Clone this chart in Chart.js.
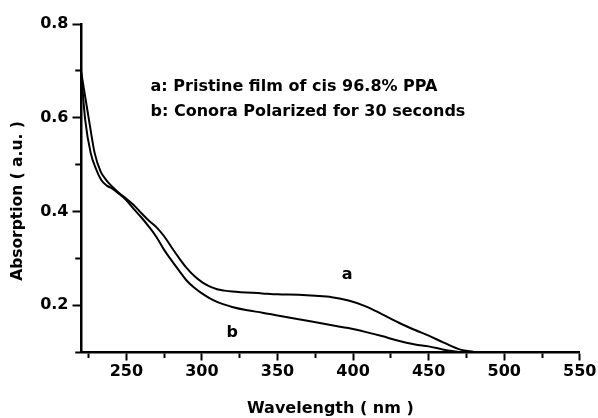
<!DOCTYPE html>
<html>
<head>
<meta charset="utf-8">
<script src="https://cdn.jsdelivr.net/npm/chart.js@4"></script>
<style>
  html, body { margin: 0; padding: 0; background: #fff; }
  #wrap { width: 598px; height: 418px; }
</style>
</head>
<body>
<div id="wrap"><canvas id="uvchart" width="598" height="418"></canvas></div>
<script>
// curve a: pristine film
const wavelengthA = [220, 222.5, 225.3, 229, 233, 236.7, 240, 245, 250, 255, 260, 265, 270, 275, 280, 285, 290, 295, 300, 305, 310, 315, 320, 340, 350, 364, 375, 386, 397, 408, 419, 430, 441, 450, 460, 471, 480];
const absorbA = [0.70, 0.65, 0.595, 0.525, 0.485, 0.467, 0.455, 0.44, 0.427, 0.413, 0.396, 0.38, 0.366, 0.347, 0.323, 0.30, 0.279, 0.262, 0.249, 0.24, 0.234, 0.231, 0.229, 0.225, 0.223, 0.222, 0.22, 0.217, 0.21, 0.198, 0.181, 0.163, 0.147, 0.135, 0.12, 0.105, 0.1];

// curve b: corona polarized 30 s
const wavelengthB = [220, 222.8, 226.4, 230, 233.4, 237, 240, 245, 250, 255, 260, 265, 270, 275, 280, 285, 290, 295, 300, 305, 310, 315, 320, 330, 340, 350, 364, 386, 397, 408, 419, 430, 441, 450, 460, 470];
const absorbB = [0.70, 0.595, 0.525, 0.49, 0.467, 0.455, 0.45, 0.438, 0.424, 0.405, 0.387, 0.367, 0.345, 0.318, 0.295, 0.273, 0.252, 0.237, 0.225, 0.215, 0.207, 0.201, 0.196, 0.189, 0.184, 0.178, 0.17, 0.157, 0.151, 0.143, 0.134, 0.124, 0.116, 0.112, 0.105, 0.1];

const xMajorLabels = [250, 300, 350, 400, 450, 500, 550];
const yMajorLabels = ['0.2', '0.4', '0.6', '0.8'];

const notes = [
    { text: 'a: Pristine film of cis 96.8% PPA', x: 266, y: 0.666, align: 'left' },
    { text: 'b: Conora Polarized for 30 seconds', x: 266, y: 0.612, align: 'left' },
    { text: 'a', x: 396, y: 0.265, align: 'center' },
    { text: 'b', x: 320, y: 0.141, align: 'center' }
];
const yTitle = 'Absorption ( a.u. )';

const FONT = '"DejaVu Sans", Arial, sans-serif';

function toPoints(xs, ys) {
    return xs.map((x, i) => ({ x: x, y: ys[i] }));
}

const notePlugin = {
    id: 'notes',
    afterDraw(chart) {
        const ctx = chart.ctx;
        const xs = chart.scales.x, ys = chart.scales.y;
        ctx.save();
        ctx.fillStyle = '#000';
        ctx.font = 'bold 16px ' + FONT;
        ctx.textBaseline = 'middle';
        notes.forEach(n => {
            ctx.textAlign = n.align;
            ctx.fillText(n.text, xs.getPixelForValue(n.x), ys.getPixelForValue(n.y));
        });
        // y axis title
        ctx.font = 'bold 15.5px ' + FONT;
        ctx.translate(18, 201);
        ctx.rotate(-Math.PI / 2);
        ctx.textAlign = 'center';
        ctx.fillText(yTitle, 0, 0);
        ctx.restore();
    }
};

const lineStyle = {
    borderColor: '#000',
    borderWidth: 2,
    pointRadius: 0,
    fill: false,
    cubicInterpolationMode: 'monotone'
};

// minor ticks are shorter: x ticks are stroked from the axis outwards,
// y ticks from the outer end towards the axis
const minorDashX = [4.5, 30];
const minorDashY = [0, 2.75, 30, 0];

new Chart(document.getElementById('uvchart').getContext('2d'), {
    type: 'line',
    data: {
        datasets: [
            Object.assign({ label: 'a', data: toPoints(wavelengthA, absorbA) }, lineStyle),
            Object.assign({ label: 'b', data: toPoints(wavelengthB, absorbB) }, lineStyle)
        ]
    },
    options: {
        responsive: false,
        animation: false,
        layout: { padding: { top: 24, right: 17, left: 0, bottom: 0 } },
        plugins: {
            legend: { display: false },
            tooltip: { enabled: false }
        },
        scales: {
            x: {
                type: 'linear',
                min: 220,
                max: 550,
                afterFit: s => { s.height = 66; },
                border: { color: '#000', width: 2.5 },
                grid: {
                    drawOnChartArea: false,
                    tickLength: 8.5,
                    tickColor: '#000',
                    tickWidth: 2,
                    tickBorderDash: c => xMajorLabels.includes(c.tick.value) ? [] : minorDashX
                },
                ticks: {
                    stepSize: 25,
                    includeBounds: false,
                    autoSkip: false,
                    maxRotation: 0,
                    padding: 1.5,
                    color: '#000',
                    font: { family: FONT, size: 16, weight: 'bold' },
                    callback: v => xMajorLabels.includes(v) ? String(v) : ''
                },
                title: {
                    display: true,
                    text: 'Wavelength ( nm )',
                    color: '#000',
                    padding: { top: 0, bottom: 0 },
                    font: { family: FONT, size: 16, weight: 'bold' }
                }
            },
            y: {
                min: 0.1,
                max: 0.8,
                afterFit: s => { s.width = 81; },
                border: { color: '#000', width: 2.5 },
                grid: {
                    drawOnChartArea: false,
                    tickLength: 8.5,
                    tickColor: '#000',
                    tickWidth: 2,
                    tickBorderDash: c => yMajorLabels.includes(c.tick.value.toFixed(1)) ? [] : minorDashY
                },
                ticks: {
                    stepSize: 0.1,
                    autoSkip: false,
                    padding: 4,
                    color: '#000',
                    font: { family: FONT, size: 16, weight: 'bold' },
                    callback: v => {
                        const s = v.toFixed(1);
                        return yMajorLabels.includes(s) ? s : '';
                    }
                }
            }
        }
    },
    plugins: [notePlugin]
});
</script>
</body>
</html>
